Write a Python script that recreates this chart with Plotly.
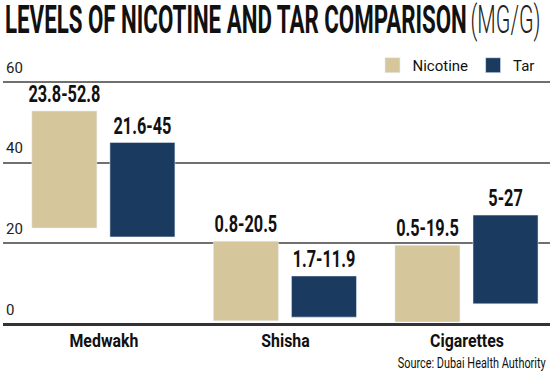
import plotly.graph_objects as go

categories = ["Medwakh", "Shisha", "Cigarettes"]
nicotine_low = [23.8, 0.8, 0.5]
nicotine_high = [52.8, 20.5, 19.5]
tar_low = [21.6, 1.7, 5]
tar_high = [45, 11.9, 27]
y_ticks = [0, 20, 40, 60]

title_main = "LEVELS OF NICOTINE AND TAR COMPARISON"
title_unit = "(MG/G)"
source_text = "Source: Dubai Health Authority"

NICOTINE_COLOR = "#D6C69B"
TAR_COLOR = "#1B3A60"
FONT = "Roboto, Inter, sans-serif"


def fmt(v):
    return f"{v:g}"


fig = go.Figure()
fig.add_trace(go.Bar(
    name="Nicotine", x=categories,
    y=[h - l for l, h in zip(nicotine_low, nicotine_high)],
    base=nicotine_low,
    text=[f"{fmt(l)}-{fmt(h)}" for l, h in zip(nicotine_low, nicotine_high)],
    marker_color=NICOTINE_COLOR, offset=-0.397, width=0.358,
))
fig.add_trace(go.Bar(
    name="Tar", x=categories,
    y=[h - l for l, h in zip(tar_low, tar_high)],
    base=tar_low,
    text=[f"{fmt(l)}-{fmt(h)}" for l, h in zip(tar_low, tar_high)],
    marker_color=TAR_COLOR, offset=0.033, width=0.358,
))
fig.update_traces(
    textposition="outside", cliponaxis=False, constraintext="none",
    textfont=dict(family=FONT, size=24, color="#111", weight="bold"),
    hoverinfo="skip",
)

# plot area: x 3..550, y 46..324 (4.033 px per unit)
fig.update_layout(
    width=550, height=373,
    margin=dict(l=3, r=0, t=46, b=49),
    paper_bgcolor="white", plot_bgcolor="white",
    barmode="overlay",
    showlegend=True,
    legend=dict(
        orientation="h", x=0.6755, xanchor="left", y=0.93, yanchor="middle",
        font=dict(family=FONT, size=15, color="#111"),
        bgcolor="rgba(0,0,0,0)",
    ),
    xaxis=dict(
        range=[-0.556, 2.457], showgrid=False, showline=False, zeroline=False,
        ticks="", ticklabelstandoff=4, automargin=False,
        tickfont=dict(family=FONT, size=18, color="#111", weight="bold"),
    ),
    yaxis=dict(
        range=[0, 68.93], tickvals=y_ticks, ticktext=[str(v) for v in y_ticks],
        ticklabelposition="inside top", automargin=False, ticklabelshift=-4,
        tickfont=dict(family=FONT, size=15, color="#222"),
        showgrid=True, gridcolor="#707070", gridwidth=1.5,
        zeroline=True, zerolinecolor="#333", zerolinewidth=3,
        showline=False, ticks="",
    ),
    annotations=[
        dict(text=title_main, xref="paper", yref="paper", x=0, xanchor="left",
             align="left", y=1.0953, yanchor="middle", showarrow=False,
             font=dict(family=FONT, size=38, color="#111", weight="bold")),
        dict(text=title_unit, xref="paper", yref="paper", x=0.9872, xanchor="right",
             align="right", y=1.0953, yanchor="middle", showarrow=False,
             font=dict(family=FONT, size=38, color="#222", weight=300)),
        dict(text=source_text, xref="paper", yref="paper", x=0.9963, xanchor="right",
             align="right", y=-0.1403, yanchor="middle", showarrow=False,
             font=dict(family=FONT, size=15, color="#111")),
    ],
)

post = """
(function(){
  document.body.style.margin = '0';
  var gd = document.getElementById('{plot_id}');
  function sq(el, s, mode){
    var b = el.getBBox();
    var x = mode === 'left' ? b.x : (mode === 'right' ? b.x + b.width : b.x + b.width / 2);
    var t = el.getAttribute('transform') || '';
    el.setAttribute('transform', t + ' translate(' + x + ',0) scale(' + s + ',1) translate(' + (-x) + ',0)');
  }
  function fit(nodes, refText, target, mode){
    var ref = null;
    nodes.forEach(function(n){ if (n.textContent === refText) ref = n; });
    if (!ref) return;
    var w = ref.getBBox().width;
    if (!w) return;
    var s = target / w;
    nodes.forEach(function(n){ sq(n, s, mode); });
  }
  fit(Array.from(gd.querySelectorAll('text.bartext')), '23.8-52.8', 72, 'center');
  fit(Array.from(gd.querySelectorAll('.xtick text')), 'Medwakh', 69, 'center');
  Array.from(gd.querySelectorAll('text.annotation-text')).forEach(function(n){
    var t = n.textContent;
    if (t.indexOf('LEVELS') === 0) fit([n], t, 462, 'left');
    else if (t === '(MG/G)') fit([n], t, 70, 'right');
    else if (t.indexOf('Source') === 0) fit([n], t, 148, 'right');
  });
  Array.from(gd.querySelectorAll('.legendpoints path')).forEach(function(p){
    var t = p.getAttribute('transform') || '';
    p.setAttribute('transform', t + ' scale(1.25)');
  });
})();
"""

fig.write_html("out.html", post_script=post, config={"displayModeBar": False})
